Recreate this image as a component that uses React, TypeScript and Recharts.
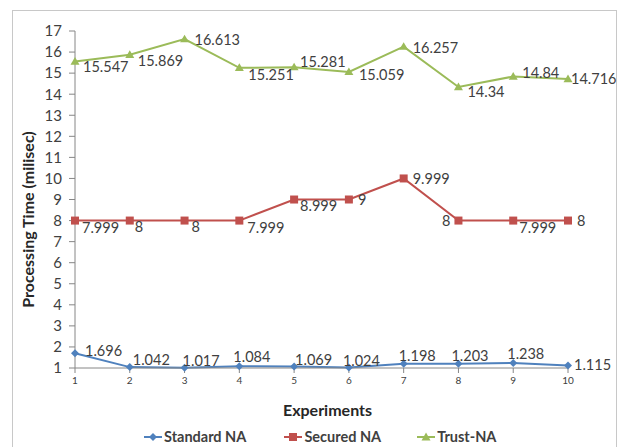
import React from "react";
import { LineChart, Line, XAxis, YAxis, Label } from "recharts";

const experiments = [1, 2, 3, 4, 5, 6, 7, 8, 9, 10];
const standardNA = [1.696, 1.042, 1.017, 1.084, 1.069, 1.024, 1.198, 1.203, 1.238, 1.115];
const securedNA = [7.999, 8, 8, 7.999, 8.999, 9, 9.999, 8, 7.999, 8];
const trustNA = [15.547, 15.869, 16.613, 15.251, 15.281, 15.059, 16.257, 14.34, 14.84, 14.716];
const yTicks = [1, 2, 3, 4, 5, 6, 7, 8, 9, 10, 11, 12, 13, 14, 15, 16, 17];

// label placement (style only): [dx, dy, anchor]
const standardLabelPos: [number, number, string][] = [
  [10, -2, "start"], [3, -7, "start"], [-2, -7, "start"], [-6, -9, "start"], [1, -7, "start"],
  [-6, -7, "start"], [-5, -8, "start"], [-7, -8, "start"], [-6, -9, "start"], [6, -1, "start"],
];
const securedLabelPos: [number, number, string][] = [
  [7, 7, "start"], [5, 6, "start"], [7, 6, "start"], [8, 7, "start"], [6, 6, "start"],
  [9, 0, "start"], [9, 0, "start"], [-8, 0, "end"], [6, 7, "start"], [9, 0, "start"],
];
const trustLabelPos: [number, number, string][] = [
  [8, 5, "start"], [8, 6, "start"], [10, 1, "start"], [9, 7, "start"], [6, -5, "start"],
  [10, 3, "start"], [9, 1, "start"], [9, 5, "start"], [9, -4, "start"], [3, 0, "start"],
];

const data = experiments.map((e, i) => ({
  exp: e,
  standard: standardNA[i],
  secured: securedNA[i],
  trust: trustNA[i],
}));

const FONT = "Lato, 'Open Sans', sans-serif";
const TEXT = "#404040";

const makeLabel = (pos: [number, number, string][]) => (props: any) => {
  const { x, y, value, index } = props;
  const p = pos[index] || [6, 0, "start"];
  return (
    <text
      x={x + p[0]}
      y={y + p[1]}
      dy="0.35em"
      textAnchor={p[2] as any}
      fontSize={14.5}
      fontFamily={FONT}
      fill={TEXT}
    >
      {value}
    </text>
  );
};

const Diamond = (props: any) => {
  const { cx, cy } = props;
  const s = 4;
  return <path d={`M${cx},${cy - s}L${cx + s},${cy}L${cx},${cy + s}L${cx - s},${cy}Z`} fill="#4F81BD" />;
};
const Square = (props: any) => {
  const { cx, cy } = props;
  const s = 4;
  return <rect x={cx - s} y={cy - s} width={2 * s} height={2 * s} fill="#C0504D" />;
};
const Triangle = (props: any) => {
  const { cx, cy } = props;
  const s = 4.5;
  return <path d={`M${cx},${cy - s}L${cx + s},${cy + s * 0.7}L${cx - s},${cy + s * 0.7}Z`} fill="#9BBB59" />;
};

const YTitle = (props: any) => {
  const vb = props.viewBox || { x: 0, y: 0, width: 0, height: 0 };
  const cx = 28;
  const cy = vb.y + vb.height / 2 + 20;
  return (
    <text
      x={cx}
      y={cy}
      transform={`rotate(-90, ${cx}, ${cy})`}
      textAnchor="middle"
      dy="0.35em"
      fontSize={16}
      fontWeight={700}
      fontFamily={FONT}
      fill="#262626"
    >
      Processing Time (milisec)
    </text>
  );
};

const XTitle = (props: any) => {
  const vb = props.viewBox || { x: 0, y: 0, width: 0, height: 0 };
  const cx = vb.x + vb.width / 2 + 6;
  return (
    <text x={cx} y={410} textAnchor="middle" dy="0.35em" fontSize={16} fontWeight={700} fontFamily={FONT} fill="#262626">
      Experiments
    </text>
  );
};

const LegendItem = ({ color, label, marker, mr }: { color: string; label: string; marker: string; mr: number }) => (
  <div style={{ display: "flex", alignItems: "center", marginRight: mr }}>
    <svg width={18} height={12} style={{ marginRight: 2 }}>
      <line x1={0} y1={6} x2={18} y2={6} stroke={color} strokeWidth={2} />
      {marker === "d" && <path d="M9,2L13,6L9,10L5,6Z" fill={color} />}
      {marker === "s" && <rect x={5} y={2} width={8} height={8} fill={color} />}
      {marker === "t" && <path d="M9,1.5L13.5,9.5L4.5,9.5Z" fill={color} />}
    </svg>
    <span style={{ fontFamily: FONT, fontWeight: 700, fontSize: 14.5, color: TEXT }}>{label}</span>
  </div>
);

export default function App() {
  return (
    <div style={{ position: "absolute", left: 0, top: 0, width: 619, height: 447, background: "#fff", overflow: "hidden" }}>
      <div style={{ position: "absolute", left: 12, top: 10, width: 605, height: 460, border: "1px solid #c8c8c8", boxSizing: "border-box" }} />
      <div style={{ position: "absolute", left: 0, top: 0 }}>
        <LineChart width={619} height={447} data={data} margin={{ top: 31, right: 51, left: 0, bottom: 0 }}>
          <XAxis
            dataKey="exp"
            type="number"
            domain={[1, 10]}
            ticks={experiments}
            interval={0}
            height={79}
            stroke="#868686"
            tickSize={5}
            tick={{ fontSize: 10, fill: TEXT, fontFamily: FONT }}
            tickMargin={4}
          >
            <Label content={<XTitle />} />
          </XAxis>
          <YAxis
            type="number"
            domain={[1, 17]}
            ticks={yTicks}
            interval={0}
            width={75}
            stroke="#868686"
            tickSize={6}
            tickMargin={7}
            tick={{ fontSize: 15, fill: TEXT, fontFamily: FONT }}
          >
            <Label content={<YTitle />} />
          </YAxis>
          <Line
            dataKey="trust"
            stroke="#9BBB59"
            strokeWidth={2}
            dot={<Triangle />}
            isAnimationActive={false}
            label={makeLabel(trustLabelPos)}
          />
          <Line
            dataKey="secured"
            stroke="#C0504D"
            strokeWidth={2}
            dot={<Square />}
            isAnimationActive={false}
            label={makeLabel(securedLabelPos)}
          />
          <Line
            dataKey="standard"
            stroke="#4F81BD"
            strokeWidth={2}
            dot={<Diamond />}
            isAnimationActive={false}
            label={makeLabel(standardLabelPos)}
          />
        </LineChart>
      </div>
      <div style={{ position: "absolute", left: 144, top: 428, display: "flex" }}>
        <LegendItem color="#4F81BD" label="Standard NA" marker="d" mr={38} />
        <LegendItem color="#C0504D" label="Secured NA" marker="s" mr={36} />
        <LegendItem color="#9BBB59" label="Trust-NA" marker="t" mr={0} />
      </div>
    </div>
  );
}
